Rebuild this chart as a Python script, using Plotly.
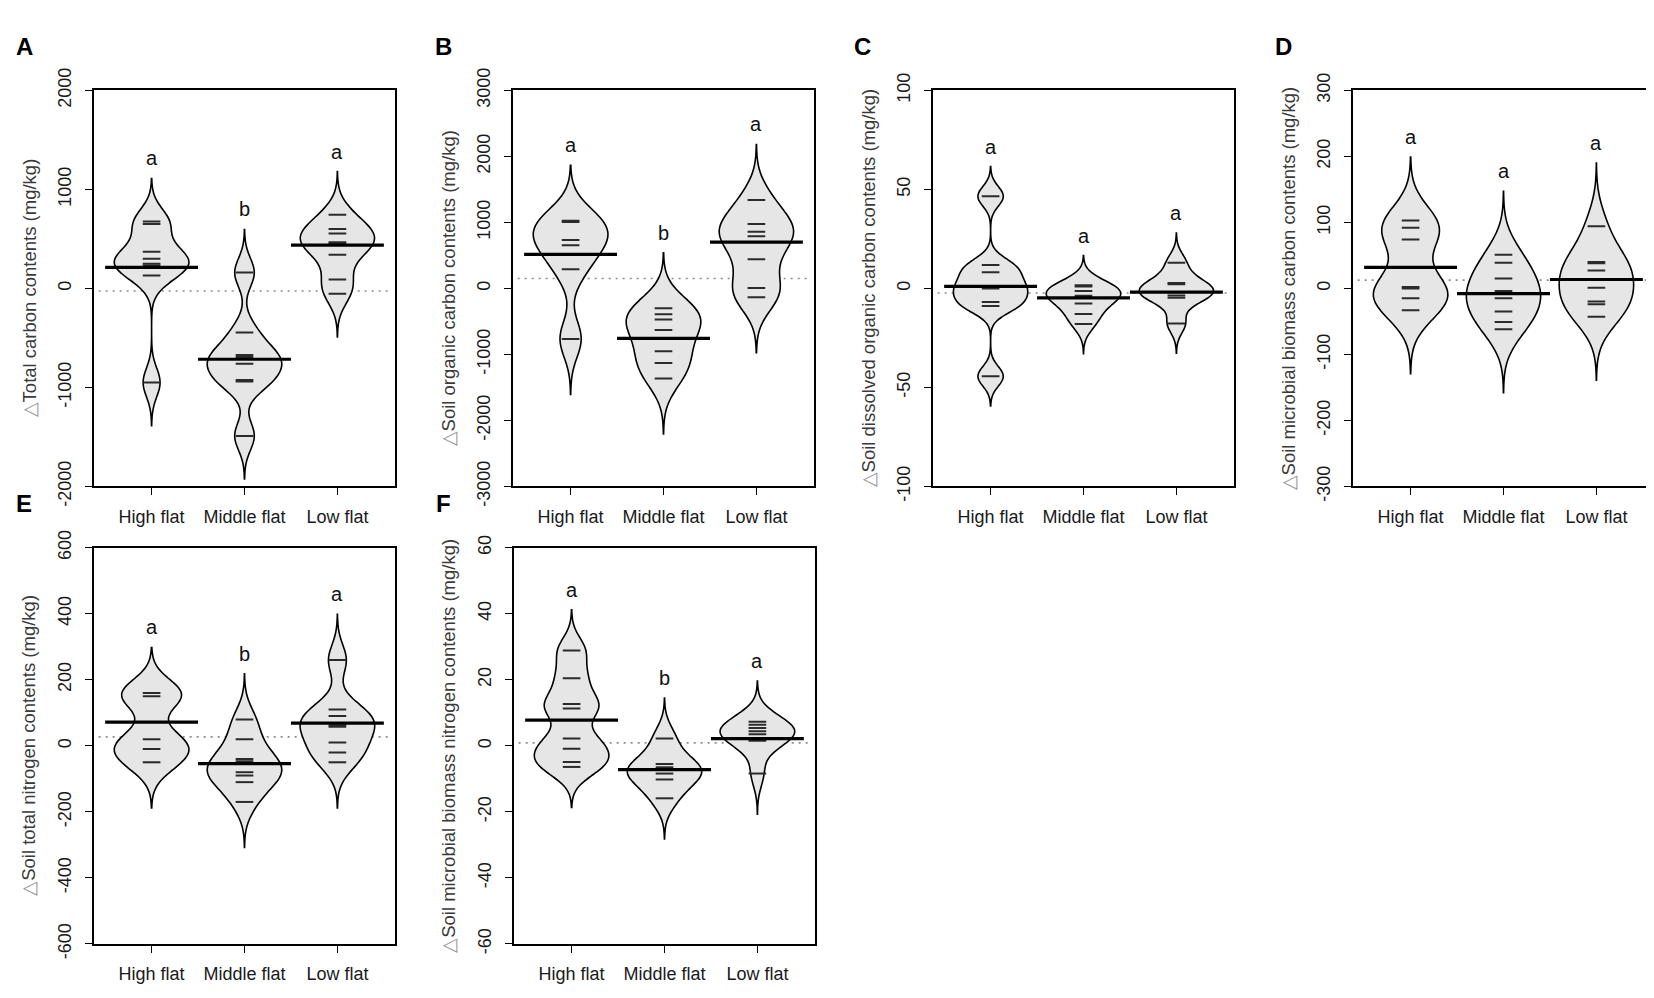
"""Beanplots of soil carbon / nitrogen changes across tidal flats (panels A-F)."""
import plotly.graph_objects as go

W, H = 1654, 998
FONT = 'Liberation Sans, Arial, sans-serif'

groups = ['High flat', 'Middle flat', 'Low flat']

# A: total carbon
tc_high = [675, 650, 370, 300, 250, 232, 130, -950]
tc_mid = [160, -445, -673, -692, -760, -925, -940, -1490]
tc_low = [745, 600, 555, 465, 455, 340, 90, -55]
tc_means = [213, -715, 438]
tc_overall = -26
tc_letters = ['a', 'b', 'a']

# B: soil organic carbon
soc_high = [1025, 1005, 735, 655, 290, -765]
soc_mid = [-300, -390, -470, -630, -950, -1130, -1365]
soc_low = [1340, 975, 860, 790, 440, 5, -135]
soc_means = [517, -758, 700]
soc_overall = 150
soc_letters = ['a', 'b', 'a']

# C: dissolved organic carbon
doc_high = [46.5, 11.8, 8.2, 0.8, 0.0, -6.9, -8.9, -44.4]
doc_mid = [1.6, 1.0, -1.3, -3.7, -4.3, -7.6, -12.9, -18.0]
doc_low = [12.9, 2.7, 2.1, -2.0, -3.6, -4.7, -17.7]
doc_means = [1.0, -4.8, -1.9]
doc_overall = -2.3
doc_letters = ['a', 'a', 'a']

# D: microbial biomass carbon
mbc_high = [103, 92, 74, 2, 0, -15, -33]
mbc_mid = [51, 39, 15, -4, -7, -15, -35, -51, -62]
mbc_low = [94, 40, 38, 27, 1, -20, -24, -43]
mbc_means = [32, -8, 13.5]
mbc_overall = 12.5
mbc_letters = ['a', 'a', 'a']

# E: total nitrogen
tn_high = [160, 150, 20, -10, -50]
tn_mid = [80, 20, -40, -47, -80, -90, -110, -170]
tn_low = [260, 110, 90, 62, 58, 10, -20, -50]
tn_means = [72, -54, 69]
tn_overall = 27
tn_letters = ['a', 'b', 'a']

# F: microbial biomass nitrogen
mbn_high = [28.9, 20.5, 12.7, 11.3, 2.2, -0.9, -4.9, -6.4]
mbn_mid = [2.2, -5.5, -6.5, -8.4, -10.2, -15.9]
mbn_low = [7.3, 6.4, 5.4, 4.4, 3.5, 1.8, 1.5, -8.4]
mbn_means = [7.8, -7.2, 2.2]
mbn_overall = 0.9
mbn_letters = ['a', 'b', 'a']

panels = [
    dict(tag='A', title='Total carbon contents (mg/kg)',
         data=[tc_high, tc_mid, tc_low], means=tc_means, overall=tc_overall,
         letters=tc_letters, yr=(-2000, 2000, 1000), bw=145, left=86, top=62),
    dict(tag='B', title='Soil organic carbon contents (mg/kg)',
         data=[soc_high, soc_mid, soc_low], means=soc_means, overall=soc_overall,
         letters=soc_letters, yr=(-3000, 3000, 1000), bw=280, left=505, top=62),
    dict(tag='C', title='Soil dissolved organic carbon contents (mg/kg)',
         data=[doc_high, doc_mid, doc_low], means=doc_means, overall=doc_overall,
         letters=doc_letters, yr=(-100, 100, 50), bw=5, left=925, top=62),
    dict(tag='D', title='Soil microbial biomass carbon contents (mg/kg)',
         data=[mbc_high, mbc_mid, mbc_low], means=mbc_means, overall=mbc_overall,
         letters=mbc_letters, yr=(-300, 300, 100), bw=32, left=1345, top=62),
    dict(tag='E', title='Soil total nitrogen contents (mg/kg)',
         data=[tn_high, tn_mid, tn_low], means=tn_means, overall=tn_overall,
         letters=tn_letters, yr=(-600, 600, 200), bw=46, left=86, top=540),
    dict(tag='F', title='Soil microbial biomass nitrogen contents (mg/kg)',
         data=[mbn_high, mbn_mid, mbn_low], means=mbn_means, overall=mbn_overall,
         letters=mbn_letters, yr=(-60, 60, 20), bw=4.1, left=506, top=540),
]

PW, PH = 301, 414
XR = [0.38, 3.62]

fig = go.Figure()
layout = dict(
    width=W, height=H, margin=dict(l=0, r=0, t=0, b=0),
    paper_bgcolor='white', plot_bgcolor='white',
    violinmode='overlay', showlegend=False,
    font=dict(family=FONT, color='#1a1a1a'),
)
annotations = []
shapes = []

for k, p in enumerate(panels):
    n = '' if k == 0 else str(k + 1)
    xa, ya = 'x' + n, 'y' + n
    lo, hi, step = p['yr']
    ticks = list(range(lo, hi + 1, step))
    layout['xaxis' + n] = dict(
        domain=[p['left'] / W, (p['left'] + PW) / W], anchor=ya,
        range=XR, tickvals=[1, 2, 3], ticktext=groups,
        ticks='outside', ticklen=7, tickwidth=1.4, tickcolor='black',
        ticklabelstandoff=6,
        showline=True, mirror=True, linecolor='black', linewidth=1.6,
        showgrid=False, zeroline=False, fixedrange=True,
        tickfont=dict(size=18, color='#1a1a1a'),
    )
    layout['yaxis' + n] = dict(
        domain=[1 - (p['top'] + PH) / H, 1 - p['top'] / H], anchor=xa,
        range=[lo, hi], tickvals=ticks, ticktext=[str(t) for t in ticks],
        tickangle=-90, ticks='outside', ticklen=7, tickwidth=1.4, tickcolor='black',
        ticklabelstandoff=7,
        showline=True, mirror=True, linecolor='black', linewidth=1.6,
        showgrid=False, zeroline=False, fixedrange=True,
        tickfont=dict(size=18, color='#1a1a1a'),
    )

    # overall mean (dotted), under the beans
    shapes.append(dict(type='line', xref=xa, yref=ya, x0=0.43, x1=3.57,
                       y0=p['overall'], y1=p['overall'], layer='below',
                       line=dict(color='#8c8c8c', width=1.6, dash='2px,5px')))

    bw = p['bw']
    seg_x, seg_y = [], []
    mean_x, mean_y = [], []
    for i, vals in enumerate(p['data']):
        pos = i + 1
        fig.add_trace(go.Violin(
            x0=pos, y=vals, xaxis=xa, yaxis=ya,
            bandwidth=bw, spanmode='manual', span=[min(vals) - 3 * bw, max(vals) + 3 * bw],
            scalemode='width', scalegroup=p['tag'], width=0.8,
            fillcolor='#e6e6e6', line=dict(color='black', width=1.6),
            points=False, box_visible=False, meanline_visible=False,
            hoverinfo='skip', opacity=1,
        ))
        for v in vals:
            seg_x += [pos - 0.095, pos + 0.095, None]
            seg_y += [v, v, None]
        mean_x += [pos - 0.5, pos + 0.5, None]
        mean_y += [p['means'][i], p['means'][i], None]
        annotations.append(dict(
            xref=xa, yref=ya, x=pos, y=max(vals) + 3 * bw, yanchor='bottom',
            yshift=7, text=p['letters'][i], showarrow=False,
            font=dict(size=20, color='#111111')))

    fig.add_trace(go.Scatter(x=seg_x, y=seg_y, xaxis=xa, yaxis=ya, mode='lines',
                             line=dict(color='#2b2b2b', width=2), hoverinfo='skip'))
    fig.add_trace(go.Scatter(x=mean_x, y=mean_y, xaxis=xa, yaxis=ya, mode='lines',
                             line=dict(color='black', width=3.2), hoverinfo='skip'))

    # y title with a light open triangle
    annotations.append(dict(
        xref='paper', yref='paper', x=(p['left'] - 65) / W,
        y=1 - (p['top'] + PH / 2) / H, xanchor='center', yanchor='middle',
        textangle=-90, showarrow=False,
        text="<span style='color:#9a9a9a'>△</span>" + p['title'],
        font=dict(size=18.5, color='#3a3a3a')))
    # panel letter
    annotations.append(dict(
        xref='paper', yref='paper', x=(p['left'] - 70) / W,
        y=1 - (p['top'] - 46) / H, xanchor='center', yanchor='middle',
        text='<b>' + p['tag'] + '</b>', showarrow=False,
        font=dict(size=24, color='black')))

layout['annotations'] = annotations
layout['shapes'] = shapes
fig.update_layout(**layout)
fig.write_html('out.html')
